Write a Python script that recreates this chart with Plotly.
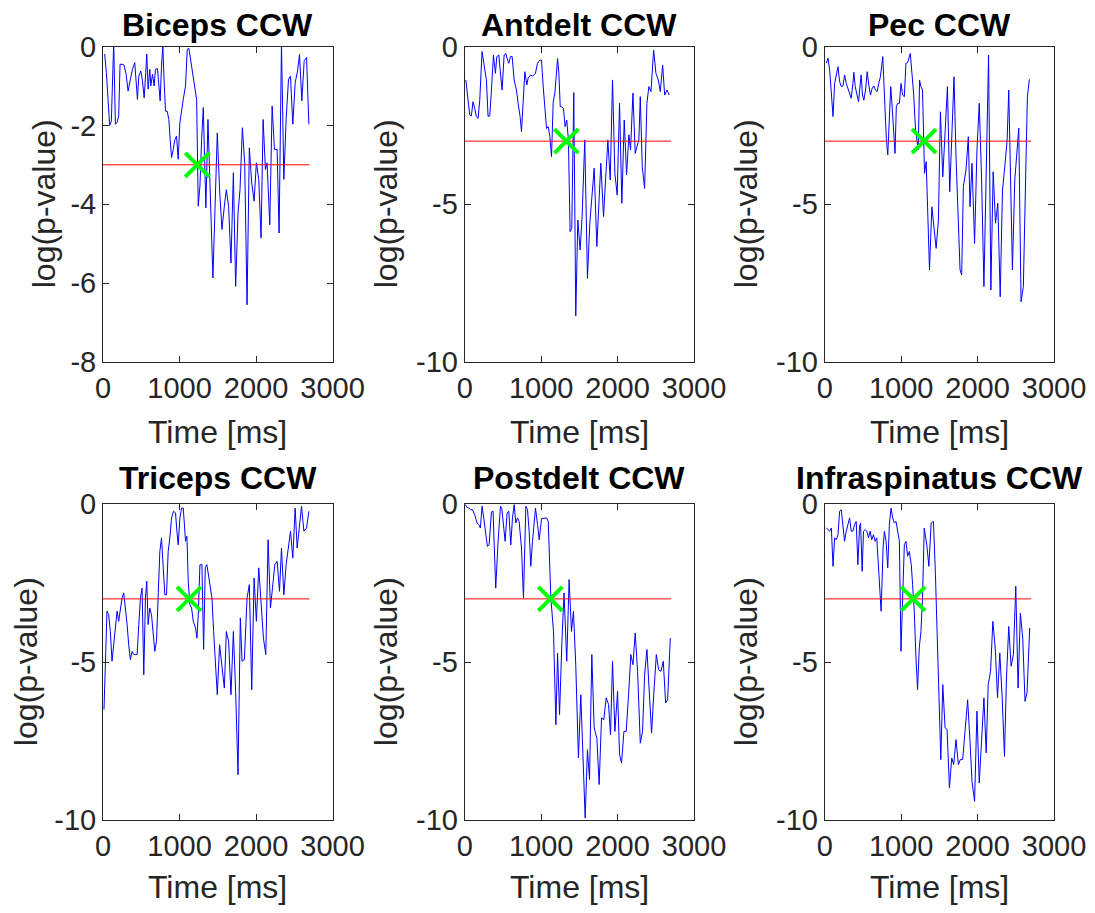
import plotly.graph_objects as go

# ---------------- data ----------------
BICEPS_T = [22, 44, 66, 87, 109, 140, 162, 184, 205, 223,
            249, 275, 302, 328, 358, 385, 415, 437, 450, 468,
            494, 516, 538, 559, 572, 590, 612, 625, 647, 669,
            686, 712, 730, 747, 765, 782, 800, 817, 839, 861,
            878, 896, 918, 940, 961, 983, 1005, 1027, 1049, 1079,
            1101, 1123, 1145, 1167, 1193, 1224, 1245, 1267, 1289, 1311,
            1345, 1372, 1437, 1494, 1524, 1555, 1586, 1612, 1642, 1673,
            1704, 1734, 1765, 1791, 1822, 1852, 1883, 1913, 1944, 1975,
            2005, 2036, 2066, 2093, 2123, 2145, 2180, 2211, 2241, 2276,
            2302, 2333, 2364, 2394, 2425, 2451, 2481, 2512, 2543, 2569,
            2599, 2630, 2661, 2691]
BICEPS_V = [-0.19, -0.66, -1.34, -2.0, -1.89, 0.1, -1.97, -1.93, -1.76, -0.45,
            -0.45, -0.47, -0.70, -1.13, -0.83, -0.58, -0.41, -0.87, -1.34, -0.75,
            -0.62, -0.87, -1.30, -0.66, -0.19, -1.08, -0.58, -1.0, -0.70, -1.0,
            -0.58, -0.56, -0.92, -1.38, -0.49, 0.0, -0.92, -1.64, -1.64, -1.85,
            -2.36, -2.82, -2.61, -2.36, -2.27, -2.86, -1.93, -1.59, -1.34, -1.0,
            -0.07, -0.05, -0.32, -0.66, -1.0, -1.34, -4.05, -3.54, -2.36, -1.55,
            -4.09, -1.85, -5.87, -2.19, -3.63, -4.64, -4.05, -3.63, -4.05, -5.49,
            -3.2, -6.08, -4.22, -3.63, -2.06, -2.95, -6.55, -2.57, -3.46, -3.92,
            -2.95, -3.37, -4.86, -1.85, -3.12, -2.95, -4.52, -1.51, -2.61, -2.61,
            -4.73, 0.1, -3.37, -1.85, -0.83, -0.75, -1.97, -0.92, -0.62, -0.2,
            -1.38, -0.36, -0.28, -1.97]

ANTDELT_T = [15, 44, 66, 87, 109, 131, 153, 175, 197, 227,
             253, 284, 306, 328, 350, 376, 402, 420, 446, 463,
             489, 516, 538, 555, 577, 599, 621, 647, 677, 699,
             725, 743, 769, 787, 813, 830, 865, 891, 926, 952,
             983, 1005, 1027, 1049, 1071, 1093, 1114, 1136, 1158, 1180,
             1197, 1215, 1232, 1250, 1270, 1292, 1314, 1335, 1357, 1379,
             1401, 1427, 1453, 1480, 1510, 1536, 1571, 1606, 1637, 1668,
             1694, 1729, 1755, 1781, 1816, 1847, 1873, 1904, 1934, 1965,
             1995, 2026, 2056, 2087, 2118, 2148, 2170, 2201, 2231, 2253,
             2279, 2297, 2323, 2354, 2384, 2410, 2437, 2472, 2502, 2533,
             2559, 2590, 2616, 2646, 2677]
ANTDELT_V = [-1.06, -1.7, -2.17, -2.2, -1.75, -1.96, -2.22, -2.28, -1.7, -0.16,
             -0.64, -1.06, -2.22, -2.2, -1.38, -0.27, -0.85, -0.32, -0.27, -0.74,
             -1.38, -0.27, -0.22, -0.38, -0.53, -0.32, -0.32, -1.06, -1.38, -1.8,
             -2.22, -2.7, -1.48, -0.8, -1.22, -1.0, -0.9, -0.94, -0.85, -0.53,
             -0.43, -0.43, -1.27, -1.91, -2.6, -2.54, -2.86, -3.49, -1.75, -1.48,
             -1.06, -0.38, -0.85, -1.91, -1.91, -1.96, -2.54, -2.33, -2.96, -5.87,
             -5.76, -1.46, -8.54, -5.5, -6.45, -5.39, -2.96, -7.35, -5.6, -4.65,
             -3.86, -6.34, -5.08, -3.7, -5.39, -4.02, -2.96, -4.23, -1.06, -4.02,
             -4.71, -1.8, -4.97, -2.33, -4.07, -2.8, -3.28, -1.48, -3.39, -3.17,
             -2.96, -1.59, -3.81, -4.5, -1.8, -1.27, -1.43, -0.11, -0.85, -1.06,
             -1.43, -0.59, -1.54, -1.38, -1.54]

PEC_T = [22, 43, 65, 87, 109, 130, 152, 174, 195, 217,
         239, 260, 282, 304, 326, 347, 369, 382, 399, 421,
         443, 464, 477, 495, 512, 534, 556, 577, 599, 621,
         642, 664, 686, 707, 729, 760, 794, 807, 825, 846,
         864, 885, 903, 920, 937, 955, 977, 998, 1020, 1042,
         1063, 1085, 1120, 1141, 1163, 1189, 1207, 1224, 1241, 1259,
         1280, 1306, 1328, 1371, 1402, 1428, 1458, 1488, 1514, 1545,
         1575, 1606, 1636, 1666, 1692, 1718, 1744, 1771, 1792, 1814,
         1849, 1879, 1901, 1927, 1961, 1992, 2022, 2053, 2083, 2144,
         2174, 2204, 2235, 2265, 2296, 2326, 2356, 2387, 2408, 2439,
         2456, 2487, 2508, 2539, 2569, 2599, 2630, 2652, 2678]
PEC_V = [-0.53, -0.37, -0.74, -1.48, -2.22, -1.17, -0.85, -0.64, -1.11, -1.27,
         -1.25, -0.90, -1.17, -1.33, -1.48, -1.64, -1.17, -0.82, -1.27, -1.54,
         -1.75, -1.22, -0.90, -1.54, -1.70, -1.38, -0.80, -1.22, -1.54, -1.33,
         -1.25, -1.38, -1.43, -1.17, -0.96, -0.32, -2.43, -2.96, -3.44, -1.91,
         -1.27, -2.01, -2.75, -3.39, -1.91, -1.80, -1.80, -1.17, -1.54, -1.59,
         -0.53, -0.51, -0.22, -0.74, -1.48, -2.65, -3.07, -3.28, -1.06, -1.27,
         -1.38, -4.02, -3.65, -7.08, -5.08, -5.71, -6.40, -5.50, -2.07, -4.13,
         -2.54, -1.27, -4.6, -2.43, -0.96, -3.49, -5.60, -7.08, -7.24, -4.44,
         -3.91, -2.86, -5.08, -3.70, -6.24, -3.28, -1.80, -4.23, -7.61, -0.27,
         -7.72, -3.97, -5.60, -4.97, -7.93, -4.55, -3.81, -2.96, -1.38, -5.92,
         -7.08, -4.23, -3.49, -2.59, -8.09, -7.61, -4.02, -1.59, -1.04]

TRICEPS_T = [13, 52, 74, 96, 118, 140, 162, 184, 205, 227,
             249, 271, 293, 315, 336, 358, 380, 402, 424, 446,
             468, 489, 511, 533, 555, 572, 590, 612, 634, 656,
             677, 699, 721, 743, 765, 787, 808, 830, 852, 874,
             896, 922, 948, 966, 983, 1005, 1027, 1049, 1062, 1079,
             1097, 1114, 1136, 1158, 1180, 1210, 1228, 1245, 1267, 1293,
             1315, 1337, 1358, 1380, 1424, 1446, 1468, 1494, 1524, 1555,
             1586, 1612, 1642, 1673, 1704, 1734, 1765, 1795, 1817, 1848,
             1883, 1913, 1944, 1975, 2005, 2036, 2066, 2097, 2128, 2158,
             2189, 2219, 2246, 2276, 2307, 2333, 2364, 2394, 2425, 2451,
             2481, 2512, 2538, 2569, 2595, 2626, 2661, 2691]
TRICEPS_V = [-6.50, -3.39, -3.50, -4.03, -4.97, -4.45, -3.71, -3.39, -3.71, -3.29,
             -2.97, -2.81, -3.29, -3.81, -4.45, -4.92, -4.66, -4.76, -4.76, -4.76,
             -3.81, -2.97, -2.66, -5.40, -2.97, -2.44, -3.81, -3.29, -3.50, -4.24,
             -4.66, -4.34, -2.97, -1.50, -1.07, -1.92, -2.87, -2.87, -1.50, -1.07,
             -0.44, -0.23, -0.28, -0.86, -1.29, -0.44, -0.13, -0.13, -0.65, -1.18,
             -1.02, -2.44, -3.18, -3.29, -3.71, -3.92, -4.24, -3.50, -1.92, -1.92,
             -4.60, -2.0, -1.92, -2.3, -2.97, -4.03, -5.08, -6.03, -4.45, -5.18,
             -5.82, -4.03, -4.34, -6.03, -4.03, -5.92, -8.56, -3.60, -4.97, -4.92,
             -2.97, -2.55, -5.87, -2.34, -3.71, -2.02, -2.97, -4.24, -4.76, -1.13,
             -3.29, -2.66, -1.92, -1.81, -2.76, -1.39, -2.87, -1.92, -1.29, -0.86,
             -1.71, -0.13, -1.39, -0.76, -0.07, -0.86, -0.76, -0.23]

POSTDELT_T = [9, 35, 57, 79, 101, 131, 162, 184, 205, 227,
              249, 271, 297, 319, 350, 371, 406, 437, 468, 485,
              511, 529, 555, 577, 603, 625, 647, 669, 690, 712,
              743, 769, 800, 822, 843, 865, 887, 909, 926, 953,
              975, 1005, 1040, 1071, 1093, 1127, 1162, 1193, 1215, 1241,
              1272, 1300, 1335, 1366, 1397, 1423, 1453, 1488, 1519, 1545,
              1576, 1606, 1633, 1663, 1694, 1729, 1759, 1790, 1820, 1851,
              1882, 1908, 1934, 1965, 2000, 2026, 2052, 2083, 2113, 2144,
              2174, 2201, 2231, 2262, 2297, 2327, 2354, 2384, 2415, 2445,
              2476, 2507, 2537, 2568, 2598, 2629, 2655, 2690]
POSTDELT_V = [-0.02, -0.11, -0.13, -0.18, -0.18, -0.34, -0.60, -0.65, -0.76, -0.07,
              -0.44, -0.86, -1.34, -1.29, -0.25, -0.23, -2.66, -1.18, -0.07, -0.13,
              -0.65, -1.18, -0.28, -0.23, -1.29, -0.44, -0.02, -0.60, -0.44, -0.55,
              -1.39, -2.97, -0.07, -0.18, -0.86, -1.97, -1.18, -0.44, -0.13, -0.65,
              -1.13, -0.46, -0.46, -0.44, -0.55, -2.97, -4.03, -6.98, -4.71, -6.66,
              -4.34, -2.81, -4.97, -2.39, -4.03, -3.39, -5.08, -8.03, -6.03, -7.61,
              -9.93, -7.77, -8.71, -4.76, -7.08, -7.40, -8.87, -6.76, -6.82, -6.13,
              -6.34, -7.29, -4.97, -7.19, -5.92, -7.92, -8.19, -7.19, -7.19, -6.03,
              -4.76, -5.08, -4.08, -5.29, -7.56, -7.19, -5.40, -4.60, -6.13, -7.24,
              -5.92, -4.76, -5.24, -5.29, -4.97, -6.29, -6.19, -4.24]

INFRA_T = [22, 43, 65, 87, 109, 130, 152, 174, 195, 217,
           239, 260, 282, 304, 326, 347, 369, 391, 412, 434,
           456, 469, 490, 508, 529, 551, 573, 595, 616, 638,
           660, 681, 703, 725, 738, 764, 781, 803, 825, 846,
           868, 890, 911, 933, 955, 977, 998, 1020, 1042, 1063,
           1085, 1107, 1133, 1150, 1172, 1194, 1215, 1237, 1259, 1280,
           1302, 1336, 1363, 1393, 1423, 1449, 1480, 1501, 1519, 1545,
           1575, 1601, 1632, 1662, 1688, 1718, 1749, 1775, 1805, 1836,
           1870, 1901, 1927, 1961, 1992, 2022, 2053, 2083, 2113, 2139,
           2170, 2200, 2231, 2261, 2291, 2322, 2352, 2378, 2408, 2439,
           2469, 2500, 2530, 2560, 2591, 2621, 2647, 2682]
INFRA_V = [-0.76, -0.81, -0.86, -0.76, -1.97, -1.07, -1.13, -0.97, -0.23, -0.18,
           -0.65, -1.18, -0.86, -0.60, -0.44, -0.86, -0.86, -0.65, -0.55, -1.92,
           -0.71, -0.60, -2.13, -0.86, -0.81, -0.86, -1.07, -0.86, -1.13, -0.97,
           -1.18, -1.07, -1.92, -2.66, -3.39, -1.39, -0.86, -1.18, -2.02, -0.65,
           -0.13, -0.44, -0.60, -0.55, -0.86, -1.18, -4.66, -2.97, -1.29, -1.18,
           -1.65, -1.50, -1.92, -2.55, -3.39, -4.87, -5.87, -4.55, -4.03, -2.97,
           -0.76, -1.29, -1.97, -0.60, -0.55, -2.23, -4.55, -6.13, -8.08, -5.71,
           -7.08, -7.13, -8.98, -8.03, -8.24, -7.45, -8.24, -8.08, -8.08, -7.19,
           -6.19, -7.50, -8.77, -9.40, -6.55, -8.82, -7.19, -6.13, -7.87, -5.71,
           -5.29, -3.71, -4.55, -6.13, -4.71, -6.13, -7.98, -5.50, -3.87, -5.13,
           -4.76, -2.60, -5.82, -3.45, -4.24, -6.24, -5.97, -3.92]

TITLES = ["Biceps CCW", "Antdelt CCW", "Pec CCW",
          "Triceps CCW", "Postdelt CCW", "Infraspinatus CCW"]
SERIES_T = [BICEPS_T, ANTDELT_T, PEC_T, TRICEPS_T, POSTDELT_T, INFRA_T]
SERIES_V = [BICEPS_V, ANTDELT_V, PEC_V, TRICEPS_V, POSTDELT_V, INFRA_V]
ONSET_T = [1232, 1330, 1300, 1125, 1120, 1157]   # green X marker times
THRESHOLD = -3
THRESH_END = 2700
X_TICKS = [0, 1000, 2000, 3000]
Y_TICKS_BICEPS = [0, -2, -4, -6, -8]
Y_TICKS_OTHER = [0, -5, -10]
Y_RANGES = [[-8, 0], [-10, 0], [-10, 0], [-10, 0], [-10, 0], [-10, 0]]
X_LABEL = "Time [ms]"
Y_LABEL = "log(p-value)"

# ---------------- layout geometry (pixels) ----------------
W, H = 1095, 913
COLS = [(103, 332.5), (464.7, 694), (824.7, 1054)]
ROWS = [(46.5, 362), (504, 820.3)]
TITLE_Y = [25, 478]
XLAB_Y = [432, 887]
YLAB_X = [[44, 386, 746], [26, 386, 746]]

FONT = "Liberation Sans, Arial, Helvetica, sans-serif"
AX_COLOR = "#262626"
TICK_SIZE = 29
LABEL_SIZE = 32
TITLE_SIZE = 32


def px_x(x):
    return x / W


def px_y(y):
    return 1 - y / H


def lab(v):
    return str(v)


fig = go.Figure()
annotations = []
for i in range(6):
    r, c = divmod(i, 3)
    n = i + 1
    xa = "x" if n == 1 else f"x{n}"
    ya = "y" if n == 1 else f"y{n}"
    yticks = Y_TICKS_BICEPS if i == 0 else Y_TICKS_OTHER

    fig.add_trace(go.Scatter(x=SERIES_T[i], y=SERIES_V[i], mode="lines",
                             line=dict(color="#0000FF", width=1),
                             xaxis=xa, yaxis=ya, showlegend=False,
                             hoverinfo="skip"))
    fig.add_trace(go.Scatter(x=[0, THRESH_END], y=[THRESHOLD, THRESHOLD],
                             mode="lines", line=dict(color="#FF0000", width=1),
                             xaxis=xa, yaxis=ya, showlegend=False,
                             hoverinfo="skip"))
    fig.add_trace(go.Scatter(x=[ONSET_T[i]], y=[THRESHOLD], mode="markers",
                             marker=dict(symbol="x-thin", size=24, color="#00FF00",
                                         line=dict(color="#00FF00", width=4)),
                             xaxis=xa, yaxis=ya, showlegend=False,
                             hoverinfo="skip"))

    x0, x1 = COLS[c]
    y0, y1 = ROWS[r]
    common = dict(showgrid=False, zeroline=False, showline=True,
                  linecolor=AX_COLOR, linewidth=1, mirror="ticks",
                  ticks="inside", ticklen=6, tickwidth=1, tickcolor=AX_COLOR,
                  tickfont=dict(family=FONT, size=TICK_SIZE, color=AX_COLOR),
                  fixedrange=True, automargin=False)
    fig.layout[f"xaxis{n if n > 1 else ''}"] = dict(
        common, domain=[px_x(x0), px_x(x1)], range=[0, 3000],
        tickvals=X_TICKS, ticktext=[lab(v) for v in X_TICKS],
        anchor=ya)
    fig.layout[f"yaxis{n if n > 1 else ''}"] = dict(
        common, domain=[px_y(y1), px_y(y0)], range=Y_RANGES[i],
        tickvals=yticks, ticktext=[lab(v) for v in yticks],
        anchor=xa)

    cx = (x0 + x1) / 2
    annotations.append(dict(text=f"<b>{TITLES[i]}</b>", x=px_x(cx), y=px_y(TITLE_Y[r]),
                            xref="paper", yref="paper", showarrow=False,
                            xanchor="center", yanchor="middle",
                            font=dict(family=FONT, size=TITLE_SIZE, color="#000000")))
    annotations.append(dict(text=X_LABEL, x=px_x(cx), y=px_y(XLAB_Y[r]),
                            xref="paper", yref="paper", showarrow=False,
                            xanchor="center", yanchor="middle",
                            font=dict(family=FONT, size=LABEL_SIZE, color=AX_COLOR)))
    annotations.append(dict(text=Y_LABEL, x=px_x(YLAB_X[r][c]), y=px_y((y0 + y1) / 2),
                            xref="paper", yref="paper", showarrow=False,
                            xanchor="center", yanchor="middle", textangle=-90,
                            font=dict(family=FONT, size=LABEL_SIZE, color=AX_COLOR)))

fig.update_layout(width=W, height=H, autosize=False,
                  margin=dict(l=0, r=0, t=0, b=0, pad=0, autoexpand=False),
                  paper_bgcolor="white", plot_bgcolor="white",
                  annotations=annotations, showlegend=False)

fig.write_html("out.html", config={"displayModeBar": False})
